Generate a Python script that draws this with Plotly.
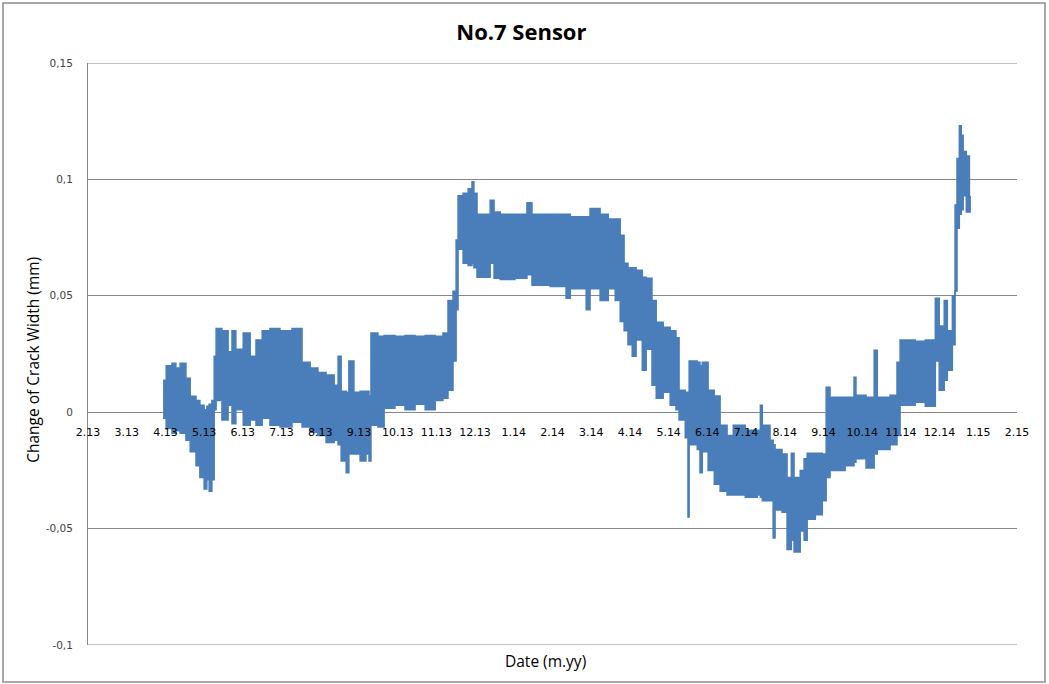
import plotly.graph_objects as go

# Month ticks along the date axis (m.yy)
tick_labels = ["2.13", "3.13", "4.13", "5.13", "6.13", "7.13", "8.13", "9.13",
               "10.13", "11.13", "12.13", "1.14", "2.14", "3.14", "4.14", "5.14",
               "6.14", "7.14", "8.14", "9.14", "10.14", "11.14", "12.14", "1.15", "2.15"]

# Time position in months counted from 2.13
months = [1.94, 2.02, 2.17, 2.27, 2.38, 2.53, 2.64, 2.79, 2.89, 3.00,
          3.07, 3.13, 3.20, 3.26, 3.31, 3.46, 3.62, 3.72, 3.82, 4.01,
          4.19, 4.34, 4.50, 4.70, 4.96, 5.27, 5.53, 5.74, 5.94, 6.15,
          6.36, 6.46, 6.54, 6.67, 6.74, 6.87, 7.03, 7.18, 7.26, 7.31,
          7.49, 7.65, 7.93, 8.19, 8.45, 8.71, 8.97, 9.17, 9.30, 9.43,
          9.51, 9.56, 9.69, 9.82, 9.92, 9.97, 10.05, 10.39, 10.49, 10.65,
          11.03, 11.34, 11.47, 11.94, 12.35, 12.46, 12.87, 12.97, 13.23, 13.44,
          13.62, 13.75, 13.85, 13.95, 14.06, 14.16, 14.32, 14.42, 14.57, 14.68,
          14.86, 15.04, 15.19, 15.27, 15.43, 15.50, 15.53, 15.74, 15.81, 15.87,
          16.02, 16.18, 16.33, 16.51, 16.67, 16.98, 17.29, 17.37, 17.42, 17.62,
          17.70, 17.75, 17.93, 18.06, 18.17, 18.24, 18.40, 18.50, 18.58, 18.79,
          18.97, 19.07, 19.17, 19.56, 19.79, 19.84, 20.10, 20.31, 20.39, 20.72,
          20.90, 20.98, 21.37, 21.63, 21.89, 21.99, 22.12, 22.20, 22.33, 22.40,
          22.45, 22.51, 22.56, 22.61, 22.69, 22.79]

# Upper envelope of the crack-width reading (mm)
upper_mm = [0.0137, 0.020, 0.021, 0.019, 0.021, 0.0146, 0.0069, 0.005, 0.003, 0.001,
            0.0026, 0.0034, 0.005, 0.024, 0.036, 0.035, 0.026, 0.035, 0.027, 0.034,
            0.024, 0.031, 0.035, 0.036, 0.035, 0.036, 0.0215, 0.019, 0.017, 0.016,
            0.0116, 0.024, 0.009, 0.0086, 0.022, 0.0086, 0.009, 0.009, 0.007, 0.034,
            0.0326, 0.033, 0.0326, 0.033, 0.0326, 0.033, 0.0326, 0.034, 0.048, 0.052,
            0.074, 0.093, 0.094, 0.096, 0.099, 0.094, 0.085, 0.091, 0.086, 0.085,
            0.085, 0.090, 0.085, 0.085, 0.085, 0.084, 0.084, 0.0875, 0.085, 0.083,
            0.083, 0.076, 0.064, 0.062, 0.062, 0.061, 0.058, 0.0575, 0.048, 0.0386,
            0.0365, 0.035, 0.032, 0.0094, 0.0086, 0.007, 0.022, 0.0215, 0.020, 0.0215,
            0.0094, 0.007, -0.0056, -0.010, -0.0056, -0.0077, -0.0077, 0.003, -0.0056, -0.012,
            -0.014, -0.016, -0.018, -0.028, -0.0176, -0.028, -0.025, -0.020, -0.0176, -0.0176,
            -0.018, 0.0107, 0.0064, 0.0064, 0.015, 0.0073, 0.0064, 0.0266, 0.0064, 0.0073,
            0.0215, 0.031, 0.0305, 0.031, 0.049, 0.037, 0.048, 0.035, 0.050, 0.089,
            0.109, 0.123, 0.119, 0.112, 0.110, 0.110]

# Lower envelope of the crack-width reading (mm)
lower_mm = [-0.0026, -0.007, -0.009, -0.008, -0.009, -0.012, -0.017, -0.023, -0.028, -0.033,
            -0.029, -0.034, -0.029, 0.001, 0.005, -0.0034, 0.003, -0.005, 0.001, -0.0056,
            -0.0034, -0.0056, -0.0026, -0.0056, -0.0064, -0.0043, -0.0064, -0.0086, -0.010, -0.013,
            -0.012, -0.014, -0.021, -0.026, -0.018, -0.018, -0.021, -0.018, -0.021, -0.0056,
            -0.0064, 0.0017, 0.003, 0.001, 0.0034, 0.001, 0.005, 0.006, 0.0094, 0.022,
            0.044, 0.070, 0.064, 0.063, 0.064, 0.062, 0.058, 0.064, 0.0575, 0.057,
            0.0575, 0.059, 0.0545, 0.054, 0.049, 0.053, 0.044, 0.053, 0.048, 0.053,
            0.048, 0.039, 0.035, 0.029, 0.024, 0.031, 0.018, 0.027, 0.0116, 0.006,
            0.0086, 0.003, 0.001, -0.0034, -0.011, -0.045, -0.014, -0.016, -0.026, -0.017,
            -0.025, -0.031, -0.034, -0.0356, -0.0356, -0.0365, -0.0356, -0.0365, -0.038, -0.038,
            -0.054, -0.042, -0.043, -0.059, -0.055, -0.060, -0.051, -0.055, -0.046, -0.044,
            -0.038, -0.028, -0.025, -0.023, -0.0215, -0.020, -0.024, -0.018, -0.016, -0.014,
            -0.010, 0.003, 0.0043, 0.0026, 0.022, 0.0094, 0.0137, 0.018, 0.029, 0.052,
            0.079, 0.085, 0.087, 0.093, 0.086, 0.093]

y_ticks = [-0.1, -0.05, 0, 0.05, 0.1, 0.15]
y_tick_text = ["-0,1", "-0,05", "0", "0,05", "0,1", "0,15"]

BLUE = "#4A7EBB"
GRID = "#878787"
TEXT = "#404040"

fig = go.Figure()
fig.add_trace(go.Scatter(
    x=months, y=lower_mm, mode="lines",
    line=dict(color=BLUE, width=1.5, shape="hv"),
    hoverinfo="skip", showlegend=False))
fig.add_trace(go.Scatter(
    x=months, y=upper_mm, mode="lines",
    line=dict(color=BLUE, width=1.5, shape="hv"),
    fill="tonexty", fillcolor=BLUE,
    showlegend=False))

# Horizontal rules at the outer tick values (top and bottom of the value range)
edge_lines = [dict(type="line", xref="paper", yref="y", x0=0, x1=1,
                   y0=v, y1=v, line=dict(color=GRID, width=1), layer="above")
              for v in (y_ticks[0], y_ticks[-1])]

fig.update_layout(
    width=1049, height=684,
    margin=dict(l=88, r=32, t=63, b=39, autoexpand=False),
    paper_bgcolor="white", plot_bgcolor="white",
    title=dict(text="<b>No.7 Sensor</b>", x=0.497, xanchor="center",
               y=1 - 32 / 684, yanchor="middle",
               font=dict(family="Open Sans", size=22, color="black")),
    xaxis=dict(
        range=[0, 24], tickmode="array",
        tickvals=list(range(len(tick_labels))), ticktext=tick_labels,
        showgrid=False, zeroline=False, showline=False,
        anchor="free", position=0.4, ticks="", ticklabelstandoff=12,
        tickfont=dict(family="DejaVu Sans", size=11, color="black"),
        automargin=False),
    yaxis=dict(
        range=[-0.1, 0.15], tickmode="array",
        tickvals=y_ticks, ticktext=y_tick_text,
        showgrid=True, gridcolor=GRID, gridwidth=1,
        zeroline=False, showline=True, linecolor=GRID, linewidth=1,
        ticks="", ticklabelstandoff=12,
        tickfont=dict(family="DejaVu Sans", size=10.5, color=TEXT),
        automargin=False),
    annotations=[
        dict(text="Change of Crack Width (mm)", xref="paper", yref="paper",
             x=0, y=0.49, xshift=-55, textangle=-90, showarrow=False,
             xanchor="center", yanchor="middle",
             font=dict(family="Open Sans", size=15.5, color="black")),
        dict(text="Date (m.yy)", xref="paper", yref="paper",
             x=0.492, y=0, yshift=-16, showarrow=False,
             xanchor="center", yanchor="middle",
             font=dict(family="Open Sans", size=15.5, color="black")),
    ],
    shapes=edge_lines + [
        # chart frame
        dict(type="rect", xref="paper", yref="paper",
             x0=(3 - 88) / 929, x1=(1045 - 88) / 929,
             y0=(645 - 682) / 582, y1=(645 - 3) / 582,
             line=dict(color="#8c8c8c", width=1.5), layer="below"),
    ],
)

fig.write_html("out.html")
